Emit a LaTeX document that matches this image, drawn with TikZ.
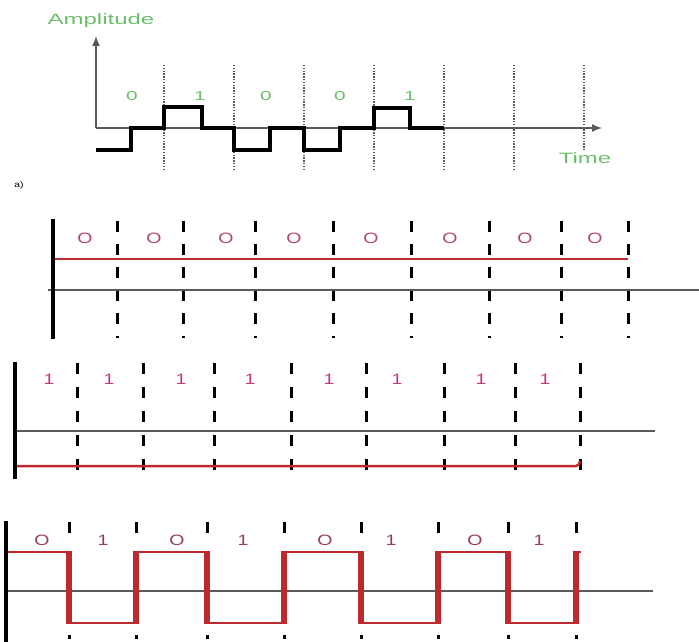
\documentclass[tikz,border=0pt]{standalone}
\usepackage{fontspec}
\setmainfont{Liberation Sans}
\usetikzlibrary{arrows.meta}
\definecolor{lblgreen}{HTML}{6CBF6A}
\definecolor{sigred}{HTML}{BC2A30}
\definecolor{lblred}{HTML}{B04A64}
\definecolor{axgray}{HTML}{5A5A5A}
\newcommand{\wide}[2][1.6]{\scalebox{#1}[1]{#2}}
\begin{document}
\begin{tikzpicture}[x=1pt,y=-1pt,
  green lbl/.style={text=lblgreen, inner sep=0pt, font=\fontsize{13}{13}\selectfont},
  axis lbl/.style={green lbl, font=\fontsize{15}{15}\selectfont},
  red lbl/.style={text=lblred, inner sep=0pt, font=\fontsize{15}{15}\selectfont},
  dotline/.style={axgray, line width=1.1pt, dash pattern=on 1.4pt off 1.4pt},
  dashline/.style={black, line width=3pt, dash pattern=on 10.5pt off 12.5pt},
  baseline/.style={axgray, line width=2.2pt},
  redline/.style={sigred, line width=2.5pt},
  redstep/.style={sigred, line width=5.5pt},
  bar/.style={black, line width=4.5pt}]
\useasboundingbox (0,0) rectangle (699,642);

% top: signal with amplitude / time axes
\coordinate (org) at (96,128);
\coordinate (ytop) at (96,36);
\coordinate (xend) at (602,128);
\foreach \x in {164,234,304,374,444,514}
  \draw[dotline] (\x,65) -- (\x,170);
\draw[dotline] (584,65) -- (584,150);
\draw[axgray, line width=1.5pt, -{Latex[length=10pt,width=8pt]}] (org) -- (ytop);
\draw[axgray, line width=1.5pt, -{Latex[length=10pt,width=8pt]}] (org) -- (xend);
\draw[black, line width=3.5pt] (96,150) -- (131,150) -- (131,128) -- (164,128) -- (164,107)
  -- (202,107) -- (202,128) -- (234,128) -- (234,150) -- (270,150) -- (270,128)
  -- (304,128) -- (304,150) -- (340,150) -- (340,128) -- (374,128) -- (374,108)
  -- (410,108) -- (410,128) -- (444,128);
\node[axis lbl] (amp) at (101,21) {\wide{Amplitude}};
\node[axis lbl] (time) at (585,158) {\wide{Time}};
\node[green lbl] (b1) at (132,96) {\wide{0}};
\node[green lbl] (b2) at (200,96) {\wide{1}};
\node[green lbl] (b3) at (266,96) {\wide{0}};
\node[green lbl] (b4) at (340,96) {\wide{0}};
\node[green lbl] (b5) at (410,96) {\wide{1}};
\node[inner sep=0pt, font=\fontsize{8}{8}\selectfont] (parta) at (19,185) {\wide[1.3]{a)}};

% all zeros
\foreach \x in {117,183,255,333,411,489,561,628}
  \draw[dashline] (\x,221) -- (\x,338);
\draw[baseline] (48,290) -- (699,290);
\draw[redline] (53,259) -- (628,259);
\draw[bar] (53,219) -- (53,339);
\foreach \x/\n in {85/z1,154/z2,226/z3,294/z4,371/z5,450/z6,525/z7,595/z8}
  \node[red lbl] (\n) at (\x,238) {\wide[1.3]{O}};

% all ones
\foreach \x in {77,143,214,291,366,444,515,580}
  \draw[dashline, dash pattern=on 11pt off 13pt] (\x,363) -- (\x,478);
\draw[baseline] (15,431) -- (655,431);
\draw[redline] (15,466) -- (576,466) to[out=0,in=-90] (580,461);
\draw[bar] (15,362) -- (15,479);
\foreach \x/\n in {49/o1,109/o2,181/o3,250/o4,329/o5,397/o6,481/o7,545/o8}
  \node[red lbl, text=lblred!80!magenta] (\n) at (\x,379) {\wide[1.3]{1}};

% alternating 0 1
\foreach \x in {69,136,207,284,361,438,508,576}
  \draw[dashline, dash pattern=on 11pt off 102pt on 4pt] (\x,522) -- (\x,639);
\draw[baseline] (6,591) -- (653,591);
\draw[redline] (8,552) -- (69,552);
\draw[redline] (69,623) -- (136,623);
\draw[redline] (136,552) -- (207,552);
\draw[redline] (207,623) -- (284,623);
\draw[redline] (284,552) -- (361,552);
\draw[redline] (361,623) -- (438,623);
\draw[redline] (438,552) -- (508,552);
\draw[redline] (508,623) -- (576,623);
\draw[redline] (576,552) -- (581,552);
\foreach \x in {69,136,207,284,361,438,508,576}
  \draw[redstep] (\x,551) -- (\x,624);
\draw[bar, line width=4pt] (6,521) -- (6,642);
\foreach \x/\t/\n in {42/O/a1,103/1/a2,177/O/a3,243/1/a4,325/O/a5,391/1/a6,475/O/a7,539/1/a8}
  \node[red lbl, text=lblred!85!black] (\n) at (\x,540) {\wide[1.3]{\t}};
\end{tikzpicture}
\end{document}
